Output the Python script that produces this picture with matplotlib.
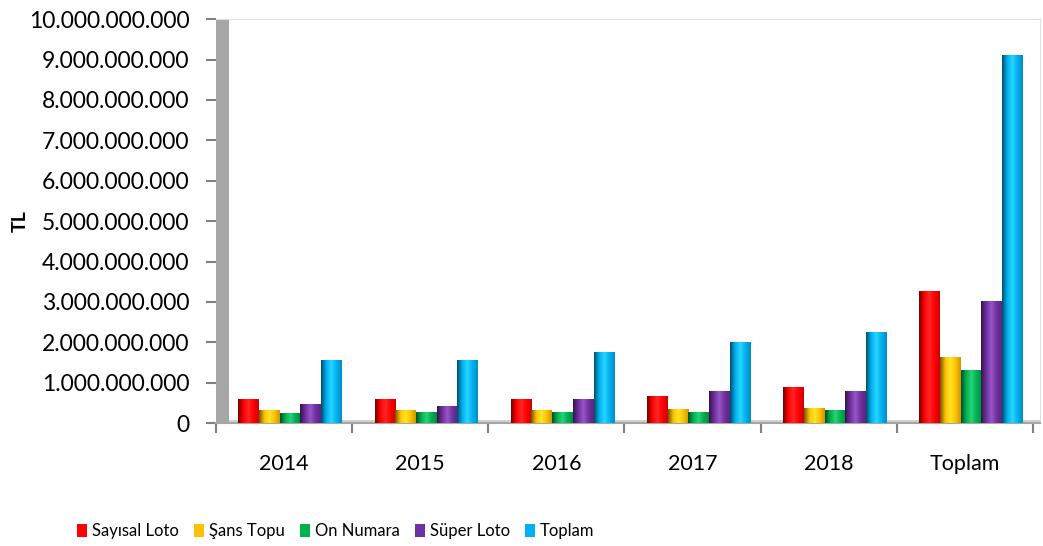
import numpy as np
import matplotlib.pyplot as plt
from matplotlib.patches import Patch, Rectangle
from matplotlib.ticker import FuncFormatter, MultipleLocator
from matplotlib.colors import LinearSegmentedColormap, to_rgb

categories = ["2014", "2015", "2016", "2017", "2018", "Toplam"]
series_names = ["Sayısal Loto", "Şans Topu", "On Numara", "Süper Loto", "Toplam"]

# milyar TL
sayisal = [0.57, 0.57, 0.59, 0.66, 0.87, 3.26]
sans = [0.31, 0.32, 0.31, 0.33, 0.36, 1.63]
on_numara = [0.23, 0.25, 0.25, 0.27, 0.31, 1.31]
super_loto = [0.45, 0.42, 0.59, 0.78, 0.77, 3.01]
toplam = [1.55, 1.55, 1.75, 2.00, 2.25, 9.10]

colors = ["#FF0000", "#FFC000", "#00B050", "#7030A0", "#00B0F0"]

plt.rcParams["font.family"] = ["Lato", "DejaVu Sans"]

fig = plt.figure(figsize=(10.43, 5.46), dpi=100)
ax = fig.add_axes([0.207, 0.225, 0.79, 0.74])

values = [np.array(s) * 1e9 for s in (sayisal, sans, on_numara, super_loto, toplam)]
x = np.arange(len(categories))
w = 0.152
offset = 0.045  # 3D kaydirma


def shade(c):
    r, g, b = to_rgb(c)
    dark = (r * 0.45, g * 0.45, b * 0.45)
    light = tuple(min(1, v + 0.15) for v in (r, g, b))
    return LinearSegmentedColormap.from_list("s", [dark, c, light, c, (r * 0.8, g * 0.8, b * 0.8)])


for i, (vals, col) in enumerate(zip(values, colors)):
    xs = x + offset + (i - 2) * w
    bars = ax.bar(xs, vals, width=w, color=col, zorder=3)
    cmap = shade(col)
    grad = np.linspace(0, 1, 64).reshape(1, -1)
    for b in bars:
        x0, y0 = b.get_x(), b.get_y()
        ax.imshow(grad, cmap=cmap, aspect="auto", zorder=3.5,
                  extent=(x0, x0 + b.get_width(), y0, y0 + b.get_height()))

ax.set_xlim(-0.5, len(categories) - 0.45)
ax.set_ylim(0, 10e9)
ax.yaxis.set_major_locator(MultipleLocator(1e9))
ax.yaxis.set_major_formatter(FuncFormatter(lambda v, p: f"{v:,.0f}".replace(",", ".")))
ax.set_xticks(x)
ax.set_xticklabels(categories)
ax.set_xticks(np.arange(len(categories) + 1) - 0.5, minor=True)
ax.tick_params(axis="x", which="major", length=0, labelsize=15.5, pad=22)
ax.tick_params(axis="x", which="minor", length=7, color="#808080", width=1.5)
ax.tick_params(axis="y", length=7, color="#808080", width=1.5, labelsize=16.5, pad=12)
ax.set_ylabel("TL", fontsize=14, fontweight="bold", labelpad=0)

for s in ("top", "right"):
    ax.spines[s].set_color("#E0E0E0")
ax.spines["left"].set_visible(False)
ax.spines["bottom"].set_color("#A6A6A6")
ax.spines["bottom"].set_linewidth(1.5)

# sol duvar (3D gorunum)
ax.add_patch(Rectangle((0, 0), 0.016, 1.0, transform=ax.transAxes, facecolor="#A6A6A6",
                       edgecolor="none", zorder=1, clip_on=False))
ax.add_patch(Rectangle((0.016, 0.004), 0.984, 0.005, transform=ax.transAxes, facecolor="#D0D0D0",
                       edgecolor="none", zorder=1, clip_on=False))

handles = [Patch(facecolor=c, edgecolor="none") for c in colors]
fig.legend(handles, series_names, loc="center", bbox_to_anchor=(0.322, 0.027), ncol=5,
           frameon=False, fontsize=12, handlelength=0.6, handleheight=0.9,
           handletextpad=0.3, columnspacing=0.9)

fig.savefig("out.png", dpi=100)
